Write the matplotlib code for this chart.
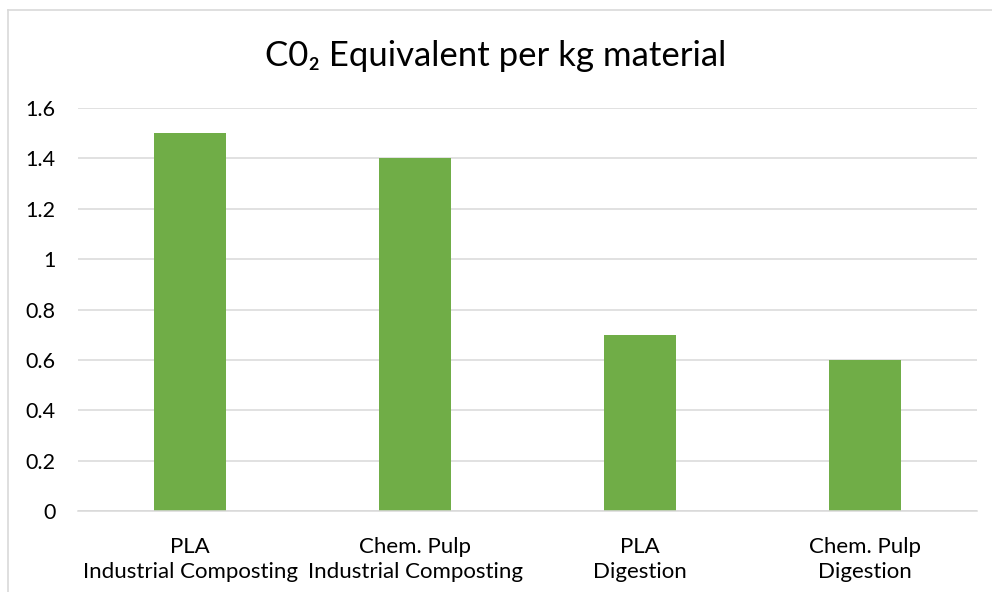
import matplotlib
matplotlib.use("Agg")
import matplotlib.pyplot as plt
from matplotlib.lines import Line2D

categories = ["PLA\nIndustrial Composting", "Chem. Pulp\nIndustrial Composting",
              "PLA\nDigestion", "Chem. Pulp\nDigestion"]
values = [1.5, 1.4, 0.7, 0.6]
yticks = [0, 0.2, 0.4, 0.6, 0.8, 1.0, 1.2, 1.4, 1.6]
ytick_labels = ["0", "0.2", "0.4", "0.6", "0.8", "1", "1.2", "1.4", "1.6"]
title = "C0\u2082 Equivalent per kg material"

plt.rcParams['font.family'] = ['Lato', 'DejaVu Sans']

fig = plt.figure(figsize=(9.92, 5.92), dpi=100)
W, H = 992, 592
# outer chart frame (cropped at right and bottom)
fig.lines.append(Line2D([7.5 / W, 7.5 / W], [0, (H - 9.5) / H], transform=fig.transFigure,
                        color="#d9d9d9", linewidth=1.2))
fig.lines.append(Line2D([7.5 / W, 1.0], [(H - 9.5) / H, (H - 9.5) / H], transform=fig.transFigure,
                        color="#d9d9d9", linewidth=1.2))

ax = fig.add_axes([78 / W, (H - 511) / H, (977 - 78) / W, (511 - 108) / H])
x = list(range(len(categories)))
ax.bar(x, values, width=0.32, color="#70ad47", zorder=3)
ax.set_xlim(-0.5, len(categories) - 0.5)
ax.set_ylim(0, 1.6)
ax.set_yticks(yticks)
ax.set_yticklabels(ytick_labels)
ax.set_xticks(x)
ax.set_xticklabels(categories, linespacing=1.3)
ax.grid(axis="y", color="#d9d9d9", linewidth=1.1, zorder=0)
for s in ["top", "right", "left"]:
    ax.spines[s].set_visible(False)
ax.spines["bottom"].set_color("#d9d9d9")
ax.spines["bottom"].set_linewidth(1.1)
ax.spines["bottom"].set_zorder(4)
ax.tick_params(axis="both", length=0, labelsize=15.5, colors="#000000")
ax.tick_params(axis="x", labelsize=16)
ax.tick_params(axis="y", pad=16)
ax.tick_params(axis="x", pad=19)
fig.text(0.5, (H - 56) / H, title, ha="center", va="center", fontsize=25, color="#000000")

fig.savefig("out.png", dpi=100)
